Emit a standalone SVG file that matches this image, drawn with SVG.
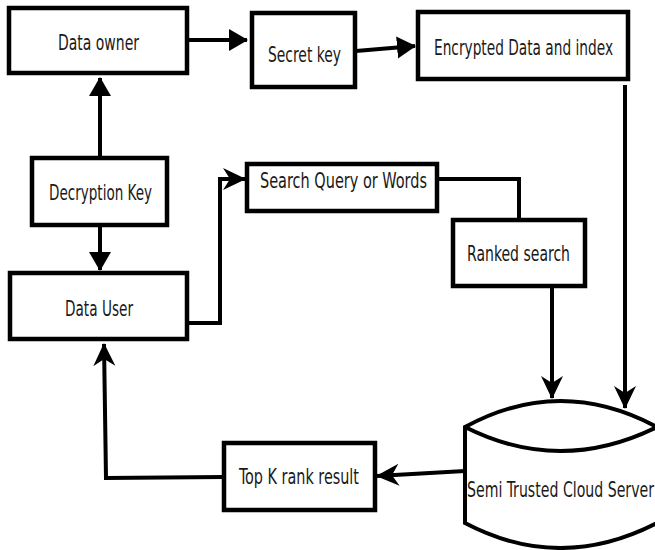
<svg xmlns="http://www.w3.org/2000/svg" width="655" height="550" viewBox="0 0 655 550">
  <defs>
    <style>
      .box { fill: #ffffff; stroke: #000000; stroke-width: 4.5; }
      .cyl { fill: #ffffff; stroke: #000000; stroke-width: 4; }
      .wire { fill: none; stroke: #000000; stroke-width: 4; stroke-linejoin: miter; }
      .label { font-family: "DejaVu Sans Condensed", "DejaVu Sans", sans-serif; font-size: 21.5px; fill: #1a1a1a; }
    </style>
    <!-- solid triangular head -->
    <marker id="tri" markerUnits="userSpaceOnUse" markerWidth="20" markerHeight="24" refX="18" refY="12" orient="auto">
      <path d="M0,1 L19,12 L0,23 Z" fill="#000"/>
    </marker>
    <!-- barbed head with notched back -->
    <marker id="barb" markerUnits="userSpaceOnUse" markerWidth="24" markerHeight="24" refX="22" refY="12" orient="auto">
      <path d="M0,1 L23,12 L0,23 L7,12 Z" fill="#000"/>
    </marker>
  </defs>

  <rect width="655" height="550" fill="#ffffff"/>

  <g id="connectors">
    <path class="wire" d="M187,40 L247,40" marker-end="url(#tri)"/>
    <path class="wire" d="M356,51 L415,46" marker-end="url(#tri)"/>
    <path class="wire" d="M100,158 L100,78" marker-end="url(#tri)"/>
    <path class="wire" d="M100,225 L100,270" marker-end="url(#tri)"/>
    <path class="wire" d="M187,323 L220,323 L220,179 L245,179" marker-end="url(#barb)"/>
    <path class="wire" d="M437,179 L519,179 L519,220"/>
    <path class="wire" d="M552,286 L552,398" marker-end="url(#barb)"/>
    <path class="wire" d="M625,85 L625,408" marker-end="url(#barb)"/>
    <path class="wire" d="M465,471 L377,476" marker-end="url(#barb)"/>
    <path class="wire" d="M224,477 L106,478 L104,344" marker-end="url(#barb)"/>
  </g>

  <g id="data-owner">
    <rect class="box" x="9" y="8" width="178" height="65"/>
    <text class="label" x="58" y="50" textLength="81" lengthAdjust="spacingAndGlyphs">Data owner</text>
  </g>

  <g id="secret-key">
    <rect class="box" x="252" y="13" width="103" height="74"/>
    <text class="label" x="268" y="62" textLength="73" lengthAdjust="spacingAndGlyphs">Secret key</text>
  </g>

  <g id="encrypted-data">
    <rect class="box" x="418" y="12" width="210" height="67"/>
    <text class="label" x="434" y="55" textLength="179" lengthAdjust="spacingAndGlyphs">Encrypted Data and index</text>
  </g>

  <g id="decryption-key">
    <rect class="box" x="32" y="158" width="135" height="67"/>
    <text class="label" x="49" y="200" textLength="103" lengthAdjust="spacingAndGlyphs">Decryption Key</text>
  </g>

  <g id="data-user">
    <rect class="box" x="10" y="273" width="177" height="66"/>
    <text class="label" x="65" y="316" textLength="68" lengthAdjust="spacingAndGlyphs">Data User</text>
  </g>

  <g id="search-query">
    <rect class="box" x="247" y="164" width="190" height="47"/>
    <text class="label" x="260" y="188" textLength="167" lengthAdjust="spacingAndGlyphs">Search Query or Words</text>
  </g>

  <g id="ranked-search">
    <rect class="box" x="453" y="220" width="132" height="66"/>
    <text class="label" x="467" y="261" textLength="103" lengthAdjust="spacingAndGlyphs">Ranked search</text>
  </g>

  <g id="top-k">
    <rect class="box" x="224" y="443" width="151" height="67"/>
    <text class="label" x="239" y="484" textLength="120" lengthAdjust="spacingAndGlyphs">Top K rank result</text>
  </g>

  <g id="cloud-server">
    <path class="cyl" d="M465,427 Q560,375 657,427 L657,523 Q560,573 465,523 Z"/>
    <path class="cyl" d="M465,427 Q560,475 657,427" fill="none"/>
    <text class="label" x="467" y="497" textLength="187" lengthAdjust="spacingAndGlyphs">Semi Trusted Cloud Server</text>
  </g>
</svg>
